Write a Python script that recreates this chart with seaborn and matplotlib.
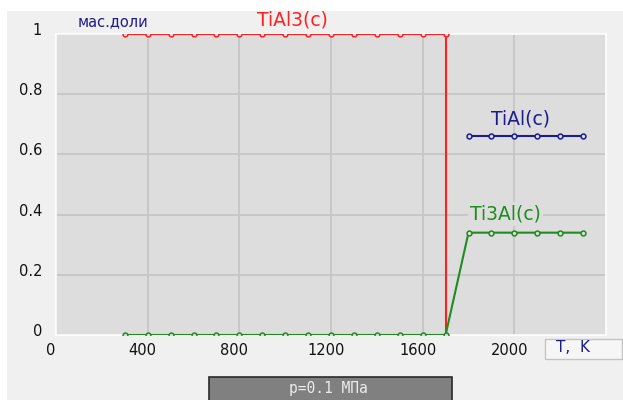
import numpy as np
import pandas as pd
import matplotlib
matplotlib.use("Agg")
import matplotlib.pyplot as plt
from matplotlib.patches import Rectangle
from matplotlib.transforms import ScaledTranslation
import seaborn as sns

# ---- data ----
tial3_T = [300, 400, 500, 600, 700, 800, 900, 1000, 1100, 1200, 1300, 1400, 1500, 1600, 1700, 1700]
tial3_v = [1, 1, 1, 1, 1, 1, 1, 1, 1, 1, 1, 1, 1, 1, 1, 0]
ti3al_T = [300, 400, 500, 600, 700, 800, 900, 1000, 1100, 1200, 1300, 1400, 1500, 1600, 1700,
           1800, 1900, 2000, 2100, 2200, 2300]
ti3al_v = [0, 0, 0, 0, 0, 0, 0, 0, 0, 0, 0, 0, 0, 0, 0,
           0.34, 0.34, 0.34, 0.34, 0.34, 0.34]
tial_T = [1800, 1900, 2000, 2100, 2200, 2300]
tial_v = [0.66, 0.66, 0.66, 0.66, 0.66, 0.66]

x_ticks = [0, 400, 800, 1200, 1600, 2000]
x_ticklabels = ["0", "400", "800", "1200", "1600", "2000"]
y_ticks = [0, 0.2, 0.4, 0.6, 0.8, 1.0]
y_ticklabels = ["0", "0.2", "0.4", "0.6", "0.8", "1"]

RED = "#ff2020"
GREEN = "#1e8c1e"
NAVY = "#1c1c8c"
AX_BG = "#dddddd"
PANEL = "#f0f0f0"

sns.set_style("white")
plt.rcParams["font.family"] = ["DejaVu Sans"]

W, H = 623, 400
fig = plt.figure(figsize=(W / 100, H / 100), dpi=100, facecolor="white")

def fx(px):
    return px / W

def fy(py):
    return 1 - py / H

# grey panel
fig.patches.append(Rectangle((fx(7), 0), 1 - fx(7), fy(11), transform=fig.transFigure,
                             facecolor=PANEL, edgecolor="none", zorder=-10))

ax = fig.add_axes([fx(56), fy(335), (606 - 56) / W, (335 - 34) / H])
ax.set_facecolor(AX_BG)

mk = dict(marker="o", markersize=3.5, markeredgewidth=1.1, markerfacecolor=AX_BG, linewidth=1.5)

df3 = pd.DataFrame({"T": tial3_T, "v": tial3_v})
sns.lineplot(data=df3, x="T", y="v", ax=ax, color=RED, estimator=None, sort=False,
             markeredgecolor=RED, markevery=list(range(15)), zorder=4, **mk)
dfg = pd.DataFrame({"T": ti3al_T, "v": ti3al_v})
sns.lineplot(data=dfg, x="T", y="v", ax=ax, color=GREEN, estimator=None, sort=False,
             markeredgecolor=GREEN, zorder=5, **mk)
dfb = pd.DataFrame({"T": tial_T, "v": tial_v})
sns.lineplot(data=dfb, x="T", y="v", ax=ax, color=NAVY, estimator=None, sort=False,
             markeredgecolor=NAVY, zorder=5, **mk)

ax.set_xlim(0, 2400)
ax.set_ylim(0, 1)
ax.set_xticks(x_ticks)
ax.set_xticklabels(x_ticklabels)
ax.set_yticks(y_ticks)
ax.set_yticklabels(y_ticklabels)
ax.set_xlabel("")
ax.set_ylabel("")
ax.tick_params(axis="both", length=0, labelsize=10.5, labelcolor="#111111")
ax.tick_params(axis="x", pad=6)
ax.tick_params(axis="y", pad=10)
ax.grid(True, color="#c6c6c6", linewidth=1.3)
ax.set_axisbelow(True)
for s in ax.spines.values():
    s.set_color("white")
    s.set_linewidth(1.2)

for lab in ax.get_xticklabels():
    lab.set_transform(lab.get_transform() + ScaledTranslation(-5 / 100, 0, fig.dpi_scale_trans))
for lab in ax.get_yticklabels():
    lab.set_transform(lab.get_transform() + ScaledTranslation(0, 5 / 100, fig.dpi_scale_trans))

# series labels
ax.text(1030, 1.047, "TiAl3(c)", color=RED, fontsize=13.5, ha="center", va="center", clip_on=False)
ax.text(2026, 0.718, "TiAl(c)", color=NAVY, fontsize=13.5, ha="center", va="center")
ax.text(1960, 0.402, "Ti3Al(c)", color=GREEN, fontsize=13.5, ha="center", va="center",
        bbox=dict(facecolor=AX_BG, edgecolor="none", pad=1.5), zorder=6)

# unit labels
fig.text(fx(113), fy(22), "мас.доли", color=NAVY, fontsize=10.5, ha="center", va="center")
fig.patches.append(Rectangle((fx(545), fy(359)), (622 - 545) / W, (359 - 339) / H,
                             transform=fig.transFigure, facecolor="#f6f6f6",
                             edgecolor="#c4c4c4", linewidth=1.0))
fig.text(fx(573), fy(348), "T,  K", color=NAVY, fontsize=11, ha="center", va="center")

# pressure box
fig.patches.append(Rectangle((fx(209), fy(402)), (452 - 209) / W, (402 - 377) / H,
                             transform=fig.transFigure, facecolor="#808080",
                             edgecolor="#2a2a2a", linewidth=1.2))
fig.text(fx(328), fy(389), "p=0.1 МПа", color="#ececec", fontsize=10.5,
         family="DejaVu Sans Mono", ha="center", va="center")

fig.savefig("out.png", dpi=100, facecolor=fig.get_facecolor())
